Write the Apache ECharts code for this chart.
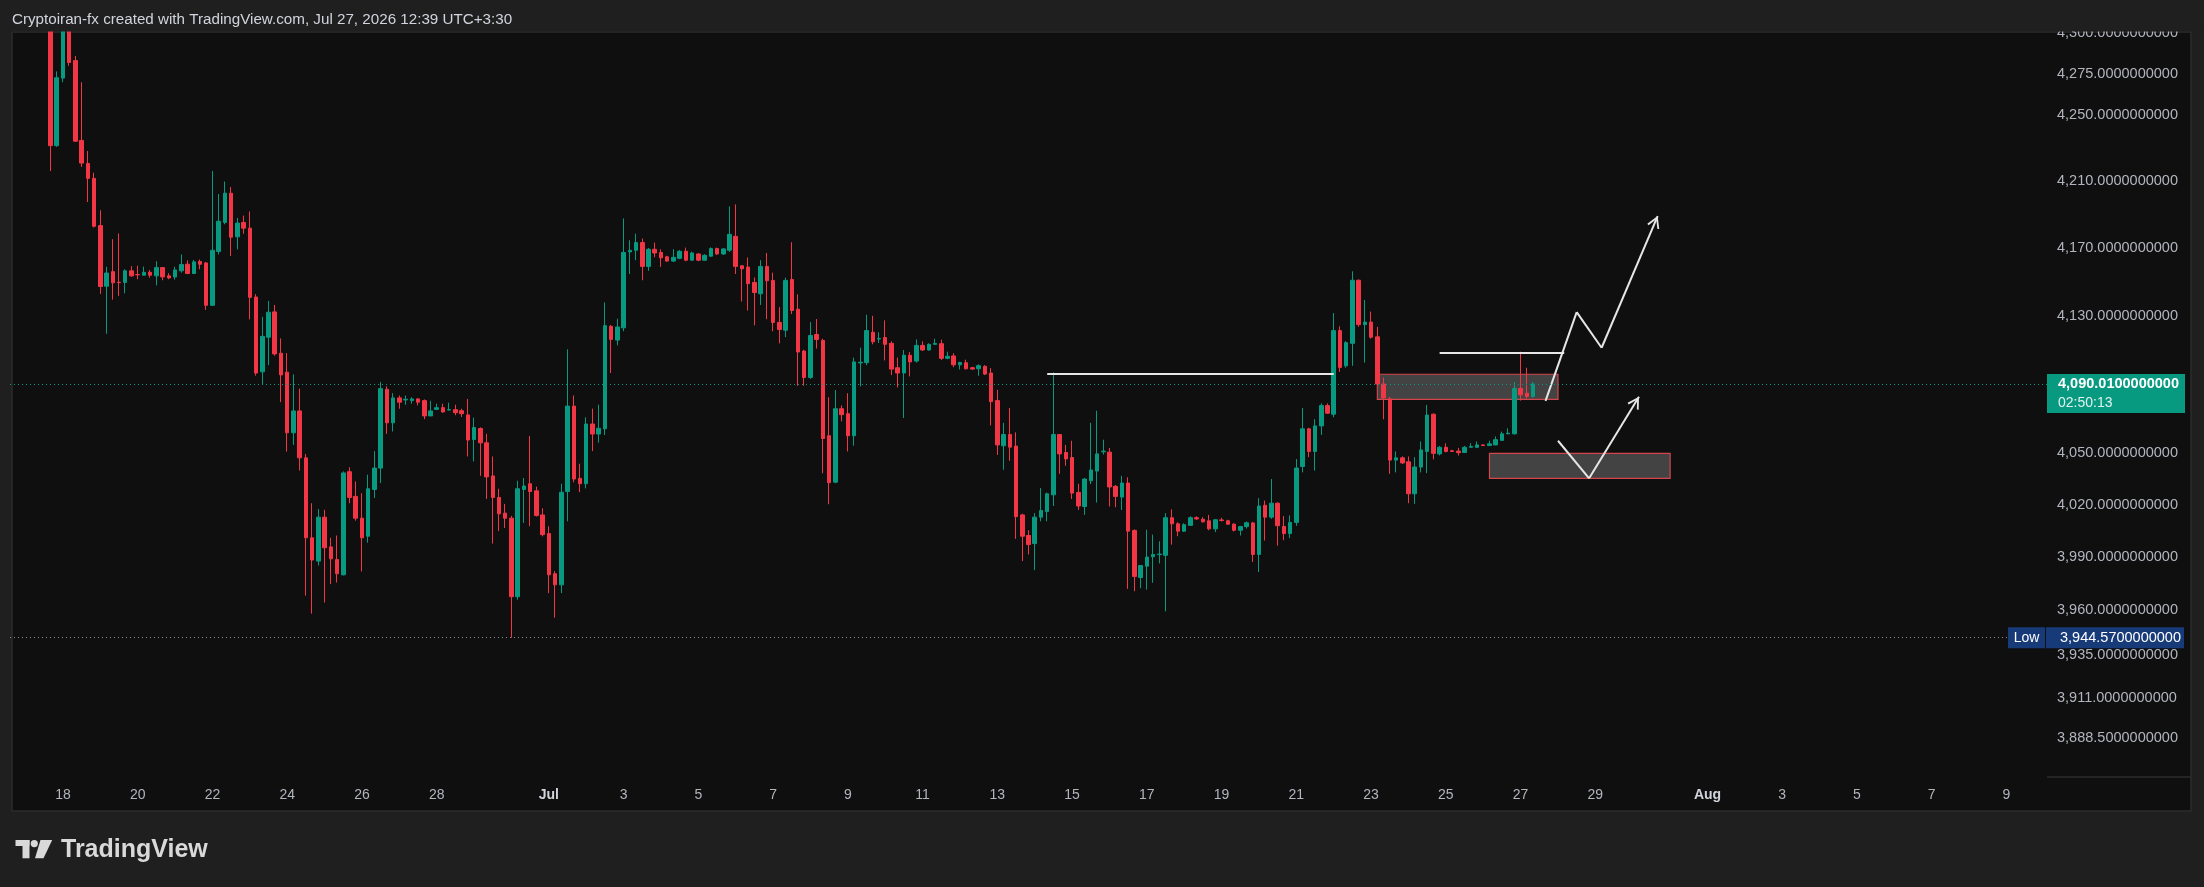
<!DOCTYPE html>
<html>
<head>
<meta charset="utf-8">
<script src="https://cdn.jsdelivr.net/npm/echarts@6/dist/echarts.min.js"></script>
<style>
html,body{margin:0;padding:0;background:#1f1f1f;}
#chart{width:2204px;height:887px;}
</style>
</head>
<body>
<div id="chart"></div>
<script>
// ---------- DATA ----------
const firstSlotTime = [2026, 5, 16, 19, 30]; // first time slot on the axis (UTC+3:30 local clock)
const barHours = 4;
const slotCount = 327;
const firstCandleSlot = 6;

// [open, close, low, high] per 4h candle
const ohlc = [
[4320,4231.5,4216.2,4332],[4231.5,4272.7,4230.8,4276.6],[4272.5,4318,4270,4330],[4318,4282,4280,4325],
[4283.2,4234.2,4233.8,4286],[4234.7,4221,4218.7,4270],[4220.8,4211.8,4197.6,4228.3],[4211.8,4183.1,4182.4,4215.2],
[4183.5,4147.3,4142.9,4192.7],[4147.5,4155.3,4119.4,4159],[4156.1,4149.5,4139.5,4175.4],[4149.8,4149.6,4141.8,4178.8],
[4149.7,4156.6,4143.3,4157.5],[4156.6,4153.6,4153,4159.4],[4154.4,4154.2,4151.6,4159.6],[4154,4155.7,4154,4159.1],
[4155.7,4154,4152.5,4157],[4153.6,4158.5,4148,4162.3],[4158.5,4153,4151,4158.5],[4153.6,4152.4,4151.6,4155.2],
[4152.9,4157.1,4151.4,4159],[4156.6,4160.3,4155.5,4166.3],[4160.5,4155,4155,4162.8],[4155,4161.9,4155,4163],
[4162.1,4160.5,4157.5,4163.3],[4161.3,4136.2,4133.5,4161.8],[4136.2,4168.8,4135.8,4216.2],[4168.1,4186.1,4166.3,4202.4],
[4185.4,4202.9,4184.3,4209.9],[4202.9,4176.6,4165.4,4206.6],[4176.8,4185,4169.3,4188.1],[4185.4,4182,4178.6,4189.5],
[4182,4140.9,4127.9,4192],[4141.1,4096.4,4094.9,4142.8],[4097.1,4117.9,4089.8,4129.4],[4117.4,4132.1,4101,4138.8],
[4132.3,4107.6,4106.5,4136.4],[4108,4095.3,4079.4,4116.7],[4096.9,4061.6,4050.7,4108.1],[4061.6,4074.3,4054.6,4095.6],
[4074.3,4047.1,4039.8,4087.3],[4047.1,4001.2,3968.3,4049.4],[4001.2,3988.5,3958.1,4021],[3987.9,4013,3985.4,4017.7],
[4013,3995.5,3964.4,4017.2],[3996,3989.2,3974.8,4001.2],[3988.8,3980.7,3975.7,4002.5],[3980.1,4038.4,3979.8,4039.3],
[4039.1,4024.3,4021,4041.7],[4024.9,4012.4,4011,4033.5],[4012.4,4001.2,3982,4026.7],[4002.1,4029.3,3998.4,4037.4],
[4028.9,4041.2,4024,4051],[4041.2,4087.3,4032.6,4091.2],[4086.9,4067.4,4061,4088.6],[4067.4,4081.9,4062.4,4084.7],
[4081.9,4079.4,4075.6,4083.3],[4080.7,4081.1,4077.9,4083.3],[4080.3,4081.3,4078.5,4082.3],[4081.3,4079.4,4077.5,4081.8],
[4080.3,4071.4,4069.5,4081],[4071.4,4074.3,4071.4,4080.2],[4075.2,4076.2,4075,4078.5],[4076.2,4073.7,4073.3,4078.5],
[4074.8,4075.1,4074.6,4079.1],[4075,4073.3,4071.8,4077.9],[4074.4,4072.7,4070.8,4075.6],[4072,4057.4,4047.9,4081.3],
[4057.7,4064.7,4045,4070.4],[4064.1,4055.8,4036.7,4064.8],[4055.8,4036.1,4023.4,4061],[4036.7,4024.3,3997.9,4047.9],
[4024.3,4014.9,4005,4029.3],[4015.3,4012.4,4006.8,4020.6],[4012.4,3967.7,3944.57,4013.7],[3967.7,4029.3,3966,4033.9],
[4028.9,4030.9,4009.7,4035.5],[4032.2,4027.7,4007.8,4059.8],[4028.1,4013.9,4013.4,4030.5],[4014.3,4003,4002,4018.1],
[4003.6,3980.1,3969.7,4007.8],[3980.7,3974.4,3955.8,3982.2],[3974.4,4027.3,3969.7,4032.2],[4027.7,4077.1,4010.6,4110.3],
[4077.1,4034.9,4033,4083.3],[4035.3,4032.2,4027.3,4043.7],[4032.2,4066.7,4029.5,4070.6],[4066.7,4060.9,4051,4075.6],
[4060.9,4064.2,4055.9,4077.9],[4063.9,4124.2,4060.3,4137.9],[4123.8,4116.1,4096.4,4124.6],[4115.7,4123.4,4112.6,4128.3],
[4122.9,4167.5,4120.9,4187.8],[4167.8,4168.8,4154.7,4174.8],[4168.8,4173.4,4162.9,4178.7],[4173.4,4159.2,4151,4175.8],
[4159.2,4169.4,4156.6,4170.2],[4169.4,4167.2,4164.6,4173.4],[4167.5,4164.3,4158.9,4169.4],[4164.9,4162.4,4161.9,4165.5],
[4162.4,4164.6,4161.9,4169.4],[4164,4168.2,4163.5,4169],[4168.2,4162.9,4162.3,4170.4],[4162.9,4167.2,4162.4,4168],
[4166.6,4162.9,4162.3,4167],[4162.9,4165.8,4162.5,4166.5],[4165.3,4169.8,4164.9,4170.5],[4169.8,4166.6,4166,4170.4],
[4166.6,4169.6,4166,4170.2],[4168.8,4178.3,4167.8,4195],[4177.1,4159.2,4154.7,4196.2],[4159.6,4157.8,4138.4,4159.8],
[4158.8,4149,4133.1,4164.5],[4149.7,4143.7,4124.4,4152.6],[4143,4159.2,4136.4,4162.9],[4159.2,4150.7,4128,4167.2],
[4150.9,4126.1,4120.9,4155.5],[4126.1,4121.9,4113.8,4135.1],[4121.5,4150.9,4117.4,4152.5],[4151.5,4133.1,4131,4173.6],
[4133.9,4108.7,4089,4142.7],[4109.3,4093.8,4089,4110],[4093.8,4118.4,4093,4126.3],[4119,4116.1,4110.7,4128.1],
[4115.5,4058.3,4038.2,4116.5],[4059.9,4032.8,4020.4,4082.3],[4033.1,4075.6,4032.5,4086.5],[4075.6,4072.1,4068.2,4077.5],
[4072.7,4059.9,4050.8,4084.6],[4059.9,4102.9,4054.1,4105.4],[4102.3,4102.7,4088.6,4111.3],[4102.5,4121.3,4101,4130.6],
[4120.3,4114.7,4113.2,4130],[4116.3,4116.7,4114,4120.3],[4117.2,4113.2,4103.8,4127.3],[4113.8,4098.7,4095.2,4115],
[4099.5,4096.4,4088,4105.4],[4096.4,4106.8,4070.2,4109.9],[4106.8,4102.9,4094.4,4108.7],[4103.4,4112.6,4102.5,4116.1],
[4112.6,4109.9,4109.3,4115],[4109.9,4113.2,4109.5,4113.8],[4113.2,4113.8,4113,4116.5],[4113.6,4105,4104,4116],
[4105,4106.2,4104.5,4108.9],[4106.4,4101.2,4099.8,4108],[4101.2,4102.5,4098.5,4103],[4102.4,4098.9,4098.5,4104.2],
[4099.5,4098.7,4098.4,4100],[4098.9,4100.7,4094.8,4101.5],[4100.3,4095.8,4095.2,4101],[4096.4,4079.7,4065.9,4099.3],
[4080.3,4054.6,4048.8,4086.6],[4054.1,4060.6,4040.2,4067.4],[4060.6,4053.3,4045.4,4076],[4053.9,4013.3,4000.6,4061.9],
[4014.3,4002.1,3987.9,4015],[4002.5,3997.3,3991.7,4005.5],[3997.9,4013,3982.8,4015.3],[4013,4016.8,4010.6,4029.7],
[4016.2,4026.4,4010.6,4027.1],[4025.8,4060.6,4019.4,4096.8],[4060.6,4049.4,4037.9,4060.8],[4050.2,4046.5,4042.5,4054.6],
[4047.3,4026.8,4023.4,4057],[4027.2,4019.4,4017.1,4032.2],[4019.1,4034.9,4014.3,4035.5],[4033.9,4040.1,4032,4067.4],
[4039.5,4049.4,4021.4,4074.4],[4050.6,4051,4049,4057.6],[4050.4,4030.3,4019.1,4052.8],[4030.7,4024.9,4018.7,4031.5],
[4024.5,4032.6,4017.1,4036.7],[4032.6,4005,3972.1,4035.9],[4005.4,3979.2,3970.8,4006],[3978.6,3985.4,3972.5,3985.6],
[3985,3990.2,3971.7,4005.8],[3990.4,3991.7,3975.6,4003],[3991.6,3991.9,3986.6,3999.2],[3991.2,4012.7,3959.4,4015.3],
[4012.7,4009.2,3997.3,4017.5],[4009.2,4005,4002.1,4010],[4005,4008.7,4004.5,4009.5],[4008.3,4012.7,4008,4013.5],
[4012.7,4012,4011.5,4013.5],[4011.8,4010.3,4010,4013],[4010.9,4006.3,4005.5,4014.3],[4006.3,4011.5,4004.4,4011.8],
[4011.4,4011.1,4010.5,4012.6],[4010.9,4009,4008.5,4011.5],[4009,4005.5,4004.8,4009.5],[4005.5,4007.6,4002.5,4008],
[4007.6,4009.8,4006.5,4010.5],[4009.7,3991.7,3987.4,4010.3],[3991.7,4019.4,3981.7,4023.9],[4019.8,4013,3999.6,4022.5],
[4013,4021,4012,4034.9],[4021,4008.1,3996.7,4021.5],[4007.7,4003.6,3999.8,4013.7],[4003.6,4010,4001,4014],
[4010,4041.2,4008,4046.4],[4042.1,4063.9,4038.7,4076],[4063.9,4050.8,4047.5,4064.5],[4050.8,4065.6,4039.8,4069.5],
[4065.6,4077.4,4060.4,4078.7],[4077.4,4073,4072.5,4078.7],[4072.4,4121.3,4070.6,4131.6],[4121.3,4099.7,4097.1,4123.8],
[4100.6,4114.2,4099.5,4115.1],[4113.8,4151,4100.6,4156.3],[4151,4124.8,4123.5,4151.5],[4124.8,4126.3,4102.5,4139.4],
[4126.3,4117.4,4116.5,4132.5],[4117.6,4090,4088.6,4123.5],[4090,4081.9,4069.4,4093.8],[4081.3,4045.8,4037.9,4082.5],
[4045.8,4047.1,4038.7,4050.8],[4047.1,4044.2,4043.5,4048],[4044.8,4026.4,4021,4047.9],[4026.4,4041.8,4020.6,4047.5],
[4041.8,4051.7,4038.7,4056.6],[4050.8,4071.9,4038.3,4077.8],[4072.4,4049.7,4046.2,4072.8],[4049.4,4053.2,4048.5,4054],
[4053.2,4050.8,4050.3,4055.5],[4051.2,4050.8,4050.5,4051.8],[4051,4050.1,4048.4,4052.9],[4050.2,4053.2,4050,4054],
[4053.2,4053.7,4053,4055.6],[4053.2,4054.6,4053,4056.6],[4054.6,4054.2,4054,4055],[4054.2,4055.2,4054,4057],
[4054.6,4057.6,4054.4,4059.5],[4057.2,4061,4057,4062.3],[4061,4061.4,4060.8,4064.2],[4061,4087.4,4060.6,4091.2],
[4087.4,4083.7,4080.3,4108.9],[4084.6,4082.7,4081.5,4099.5],[4082.7,4090.01,4082,4091.2]
];

// price axis
const yMin = 3866.9;
const yMax = 4300.1;
const yTicks = [4300, 4275, 4250, 4210, 4170, 4130, 4050, 4020, 3990, 3960, 3935, 3911, 3888.5];

// time axis labels
const xTickSlots = ['2026-06-18 03:30','2026-06-20 03:30','2026-06-22 03:30','2026-06-24 03:30','2026-06-26 03:30','2026-06-28 03:30',
  '2026-07-01 03:30','2026-07-03 03:30','2026-07-05 03:30','2026-07-07 03:30','2026-07-09 03:30','2026-07-11 03:30','2026-07-13 03:30',
  '2026-07-15 03:30','2026-07-17 03:30','2026-07-19 03:30','2026-07-21 03:30','2026-07-23 03:30','2026-07-25 03:30','2026-07-27 03:30',
  '2026-07-29 03:30','2026-08-01 03:30','2026-08-03 03:30','2026-08-05 03:30','2026-08-07 03:30','2026-08-09 03:30'];
const xTickText = ['18','20','22','24','26','28','Jul','3','5','7','9','11','13','15','17','19','21','23','25','27','29','Aug','3','5','7','9'];

const countdown = '02:50:13';

// drawing-tool annotations: [slotIndex, price]
const hLines = [ [[166, 4095.8], [212, 4095.8]], [[229, 4108.2], [249, 4108.2]] ];
const zones = [ [[219, 4095.7], [248, 4081.0]], [[237, 4049.7], [266, 4035.3]] ];
const pathUp = [[246, 4080.2], [251, 4132.2], [255, 4111.2], [264, 4189.2]];
const pathDip = [[248, 4057.0], [253, 4035.3], [261, 4082.6]];

// ---------- BUILD ----------
function pad(n){ return (n < 10 ? '0' : '') + n; }
const t0 = Date.UTC(firstSlotTime[0], firstSlotTime[1], firstSlotTime[2], firstSlotTime[3], firstSlotTime[4]);
const categories = [];
for (let i = 0; i < slotCount; i++) {
  const d = new Date(t0 + i * barHours * 3600000);
  categories.push(d.getUTCFullYear() + '-' + pad(d.getUTCMonth() + 1) + '-' + pad(d.getUTCDate()) + ' ' + pad(d.getUTCHours()) + ':' + pad(d.getUTCMinutes()));
}
const tickMap = {};
xTickSlots.forEach((s, i) => { tickMap[s] = xTickText[i]; });

const candleData = [];
for (let i = 0; i < firstCandleSlot; i++) candleData.push('-');
ohlc.forEach(c => candleData.push(c));

const lastPrice = ohlc[ohlc.length - 1][1];
const lowPrice = Math.min.apply(null, ohlc.map(c => c[2]));

function fmtPrice(v) {
  const s = (Math.round(v * 100) / 100).toFixed(10);
  const parts = s.split('.');
  return parts[0].replace(/\B(?=(\d{3})+(?!\d))/g, ',') + '.' + parts[1];
}

const GREEN = '#089981', RED = '#f23645';
const FONT = '"Liberation Sans", Arial, sans-serif';

function segs(path) {
  const out = [];
  for (let i = 0; i < path.length - 1; i++) {
    const last = i === path.length - 2;
    out.push([{ coord: path[i], symbol: 'none' },
              { coord: path[i + 1], symbol: last ? 'path://M5,-10.7 L5.01,-10.7 L5,-10.69 Z M0,10 L5,0 L10,10 L8.7,10.7 L5,3.2 L1.3,10.7 Z' : 'none', symbolSize: [13, 24] }]);
  }
  return out;
}

const annoLines = [];
hLines.forEach(l => annoLines.push([{ coord: l[0] }, { coord: l[1] }]));
segs(pathUp).forEach(s => annoLines.push(s));
segs(pathDip).forEach(s => annoLines.push(s));

const chart = echarts.init(document.getElementById('chart'), null, { renderer: 'canvas' });
chart.setOption({
  animation: false,
  backgroundColor: '#1f1f1f',
  grid: { left: 10, right: 157, top: 33, bottom: 110, containLabel: false },
  xAxis: {
    type: 'category', data: categories, boundaryGap: true,
    axisLine: { show: false }, axisTick: { show: false }, splitLine: { show: false },
    axisLabel: {
      interval: (idx, val) => tickMap[val] !== undefined,
      formatter: (val) => { const t = tickMap[val]; return (t === 'Jul' || t === 'Aug') ? '{m|' + t + '}' : t; },
      color: '#b2b5be', fontSize: 14, fontFamily: FONT, margin: 11,
      rich: { m: { fontWeight: 'bold', color: '#d1d4dc', fontSize: 14, fontFamily: FONT } }
    }
  },
  yAxis: {
    type: 'log', logBase: 10, min: yMin, max: yMax, position: 'right', scale: true,
    axisLine: { show: false }, axisTick: { show: false }, splitLine: { show: false },
    axisLabel: { customValues: yTicks, formatter: (v) => fmtPrice(v), color: '#b2b5be', fontSize: 14.5, fontFamily: FONT, margin: 10, align: 'left' }
  },
  series: [
    {
      type: 'line', data: [], silent: true, z: 1,
      markArea: {
        silent: true,
        itemStyle: { color: 'rgba(120,120,120,0.5)', borderColor: '#d4454d', borderWidth: 1.2 },
        data: zones.map(z => [{ coord: z[0] }, { coord: z[1] }])
      }
    },
    {
      type: 'candlestick', name: 'price', data: candleData, barWidth: 4, z: 2,
      itemStyle: { color: GREEN, color0: RED, borderColor: GREEN, borderColor0: RED, borderWidth: 1 }
    },
    {
      type: 'line', data: [], silent: true, z: 4,
      markLine: {
        silent: true, symbol: ['none', 'none'], animation: false,
        label: { show: false },
        lineStyle: { color: '#e6e6e6', width: 2, type: 'solid' },
        data: annoLines
      }
    },
    {
      type: 'line', data: [], silent: true, z: 5,
      markLine: {
        silent: true, symbol: ['none', 'none'], animation: false,
        data: [
          {
            yAxis: lastPrice,
            lineStyle: { color: GREEN, width: 1, type: [1, 3] },
            label: {
              show: true, position: 'end', distance: 0,
              formatter: (p) => '{gap| }\n{p|' + fmtPrice(p.value) + '}\n{t|' + countdown + '}',
              rich: {
                gap: { lineHeight: 19, height: 19, fontSize: 8, color: 'rgba(0,0,0,0)' },
                p: { backgroundColor: GREEN, color: '#ffffff', fontSize: 14.5, fontWeight: 'bold', fontFamily: FONT, width: 127, height: 20, lineHeight: 20, padding: [0, 0, 0, 11] },
                t: { backgroundColor: GREEN, color: '#dff3ee', fontSize: 14, fontFamily: FONT, width: 127, height: 19, lineHeight: 19, padding: [0, 0, 0, 11] }
              }
            }
          },
          {
            yAxis: lowPrice,
            lineStyle: { color: '#8a8e96', width: 1, type: [1, 3] },
            label: {
              show: true, position: 'end', distance: [-39, 0],
              formatter: (p) => '{l|Low}{s| }{v|' + fmtPrice(p.value) + '}',
              rich: {
                l: { backgroundColor: '#173a78', color: '#ffffff', fontSize: 14, fontFamily: FONT, width: 37, height: 21, align: 'center' },
                s: { backgroundColor: '#0f0f0f', width: 1, height: 21, fontSize: 1 },
                v: { backgroundColor: '#173a78', color: '#ffffff', fontSize: 14.5, fontFamily: FONT, width: 127, height: 21, padding: [0, 0, 0, 11] }
              }
            }
          }
        ]
      }
    }
  ],
  graphic: [
    { type: 'rect', silent: true, z: -10, shape: { x: 12, y: 32, width: 2179, height: 779 }, style: { fill: '#0f0f0f', stroke: '#2c2c2c', lineWidth: 1.5 } },
    { type: 'line', silent: true, z: -9, shape: { x1: 2047, y1: 777, x2: 2191, y2: 777 }, style: { stroke: '#2c2c2c', lineWidth: 1.5 } },
    { type: 'rect', silent: true, z: 100, shape: { x: 0, y: 0, width: 2204, height: 31.5 }, style: { fill: '#1f1f1f' } },
    { type: 'text', silent: true, z: 101, x: 12, y: 20, style: { text: 'Cryptoiran-fx created with TradingView.com, Jul 27, 2026 12:39 UTC+3:30', fill: '#d1d4dc', font: '15.2px ' + FONT, verticalAlign: 'middle' } },
    { type: 'group', silent: true, z: 101, children: [
      { type: 'rect', shape: { x: 15.5, y: 840, width: 14, height: 6 }, style: { fill: '#d9d9d9' } },
      { type: 'rect', shape: { x: 22.5, y: 840, width: 7, height: 18.3 }, style: { fill: '#d9d9d9' } },
      { type: 'circle', shape: { cx: 34.3, cy: 843.6, r: 3.6 }, style: { fill: '#d9d9d9' } },
      { type: 'polygon', shape: { points: [[40.5, 840], [52.2, 840], [43.5, 858.3], [35, 858.3]] }, style: { fill: '#d9d9d9' } },
      { type: 'text', x: 61, y: 850, style: { text: 'TradingView', fill: '#d9d9d9', font: 'bold 25px ' + FONT, verticalAlign: 'middle' } }
    ] }
  ]
});
</script>
</body>
</html>
